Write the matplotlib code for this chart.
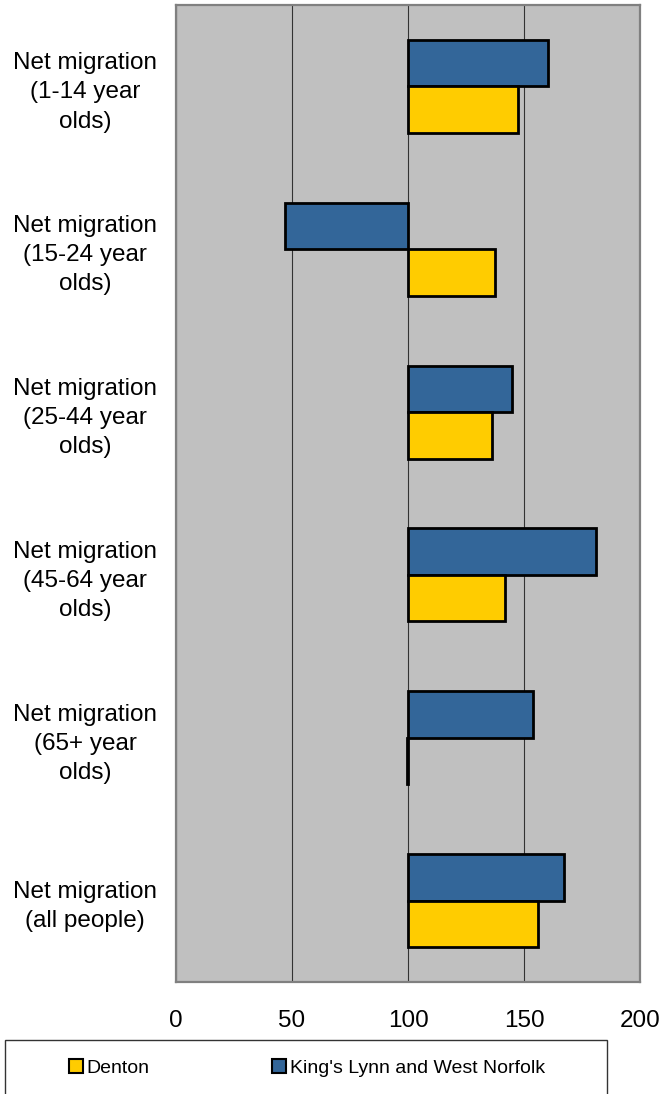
import matplotlib
matplotlib.use("Agg")
import matplotlib.pyplot as plt
from matplotlib.patches import Rectangle, Patch
import numpy as np

plt.rcParams['font.family'] = ['Liberation Sans', 'DejaVu Sans']

categories = ["Net migration\n(1-14 year\nolds)",
              "Net migration\n(15-24 year\nolds)",
              "Net migration\n(25-44 year\nolds)",
              "Net migration\n(45-64 year\nolds)",
              "Net migration\n(65+ year\nolds)",
              "Net migration\n(all people)"]
denton = [147.5, 137.3, 136, 142, 99.5, 156]
kings_lynn = [160.3, 47, 145, 181, 154, 167.4]
base = 100
xticks = [0, 50, 100, 150, 200]

fig = plt.figure(figsize=(6.64, 10.94), dpi=100)
ax = fig.add_axes([176/664, 1-982/1094, 464/664, 977/1094])
ax.set_facecolor('#C0C0C0')

y = np.arange(len(categories))
h = 0.286
ax.barh(y - h/2, np.array(kings_lynn) - base, left=base, height=h,
        color='#336699', edgecolor='black', linewidth=2.0, zorder=3)
ax.barh(y + h/2, np.array(denton) - base, left=base, height=h,
        color='#FFCC00', edgecolor='black', linewidth=2.0, zorder=3)

ax.set_xlim(0, 200)
ax.set_ylim(len(categories) - 0.5, -0.5)
ax.set_xticks(xticks)
ax.set_xticklabels([str(t) for t in xticks], fontsize=17.5)
ax.set_yticks(y)
ax.set_yticklabels(categories, fontsize=17.5, ha='center', linespacing=1.42)
ax.tick_params(axis='y', length=0, pad=65.5)
ax.tick_params(axis='x', length=0, pad=20)
ax.grid(axis='x', color='#333333', linewidth=0.8, zorder=1)
for s in ax.spines.values():
    s.set_color('#808080')
    s.set_linewidth(1.6)

fig.patches.append(Rectangle((5/664, -0.02), 602/664, 0.02 + 1 - 1040/1094,
                             transform=fig.transFigure, facecolor='white',
                             edgecolor='#333333', linewidth=1.0, zorder=0))
handles = [Patch(facecolor='#FFCC00', edgecolor='black', linewidth=1.5),
           Patch(facecolor='#336699', edgecolor='black', linewidth=1.5)]
fig.legend(handles, ['Denton', "King's Lynn and West Norfolk"], ncol=2,
           loc='center', bbox_to_anchor=(307/664, 1 - 1068/1094),
           frameon=False, fontsize=14, handlelength=0.7, handleheight=0.7,
           handletextpad=0.2, columnspacing=6.3)

fig.savefig('out.png', dpi=100)
